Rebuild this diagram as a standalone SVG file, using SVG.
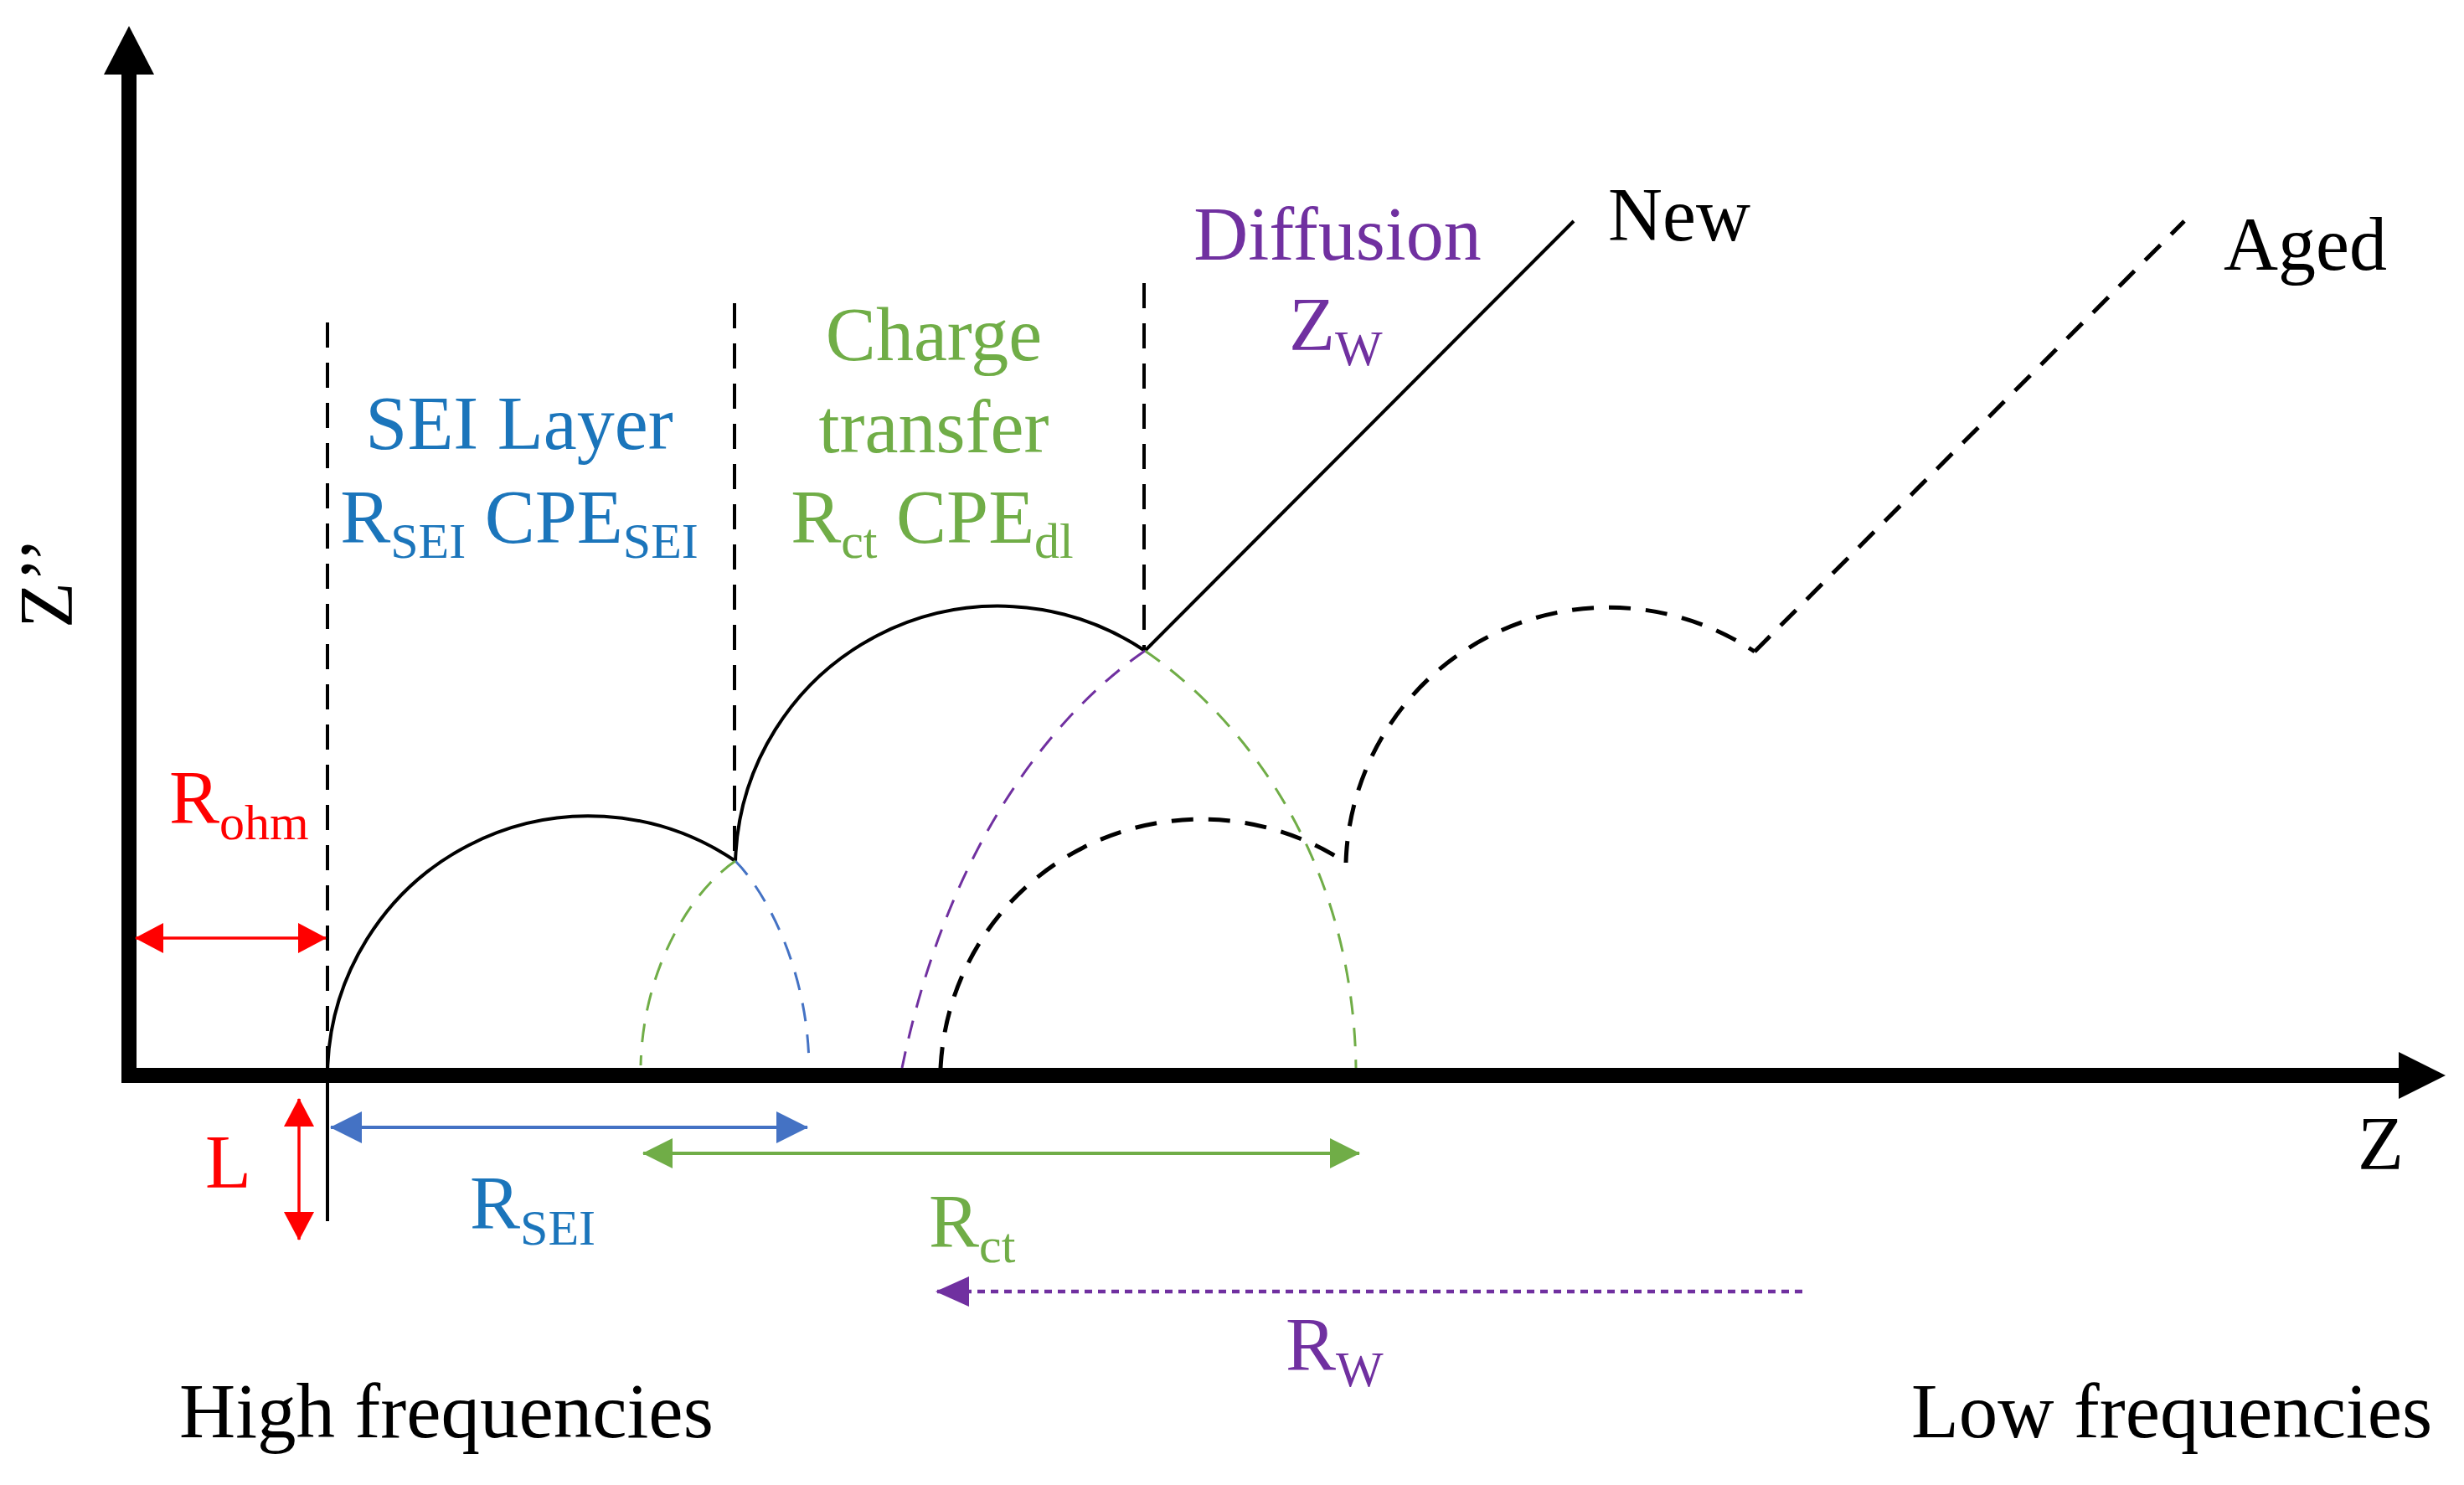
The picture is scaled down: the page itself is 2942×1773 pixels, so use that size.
<svg xmlns="http://www.w3.org/2000/svg" width="2942" height="1773" viewBox="0 0 2942 1773">
<style>
text{font-family:"Liberation Serif","Times New Roman",serif;font-size:90px}
.sub{font-size:60px}
.blue{fill:#1B75BB}
.green{fill:#70AD47}
.purple{fill:#7030A0}
.red{fill:#FF0000}
.blk{fill:#000}
.solid{fill:none;stroke:#000;stroke-width:4}
.vdash{fill:none;stroke:#000;stroke-width:4;stroke-dasharray:30 18}
.adash{fill:none;stroke:#000;stroke-width:5;stroke-dasharray:26 18}
.gdash{fill:none;stroke:#70AD47;stroke-width:3;stroke-dasharray:22 16}
.bdash{fill:none;stroke:#4472C4;stroke-width:3;stroke-dasharray:22 16}
.pdash{fill:none;stroke:#7030A0;stroke-width:3;stroke-dasharray:22 16}
</style>
<defs>
<marker id="mRed" viewBox="0 0 34 36" refX="33" refY="18" markerWidth="34" markerHeight="36" markerUnits="userSpaceOnUse" orient="auto-start-reverse"><path d="M0,0 L34,18 L0,36 Z" fill="#FF0000"/></marker>
<marker id="mBlue" viewBox="0 0 38 38" refX="37" refY="19" markerWidth="38" markerHeight="38" markerUnits="userSpaceOnUse" orient="auto-start-reverse"><path d="M0,0 L38,19 L0,38 Z" fill="#4472C4"/></marker>
<marker id="mGreen" viewBox="0 0 36 36" refX="35" refY="18" markerWidth="36" markerHeight="36" markerUnits="userSpaceOnUse" orient="auto-start-reverse"><path d="M0,0 L36,18 L0,36 Z" fill="#70AD47"/></marker>
<marker id="mPurple" viewBox="0 0 40 36" refX="39" refY="18" markerWidth="40" markerHeight="36" markerUnits="userSpaceOnUse" orient="auto"><path d="M0,0 L40,18 L0,36 Z" fill="#7030A0"/></marker>
</defs>
<rect width="2942" height="1773" fill="#fff"/>

<g id="axes">
<polyline points="154,89 154,1284 2866,1284" fill="none" stroke="#000" stroke-width="18" stroke-linejoin="miter"/>
<polygon points="154,31 124,89 184,89" fill="#000"/>
<polygon points="2920,1284 2864,1256 2864,1312" fill="#000"/>
<text class="blk" transform="translate(86,750) rotate(-90)">Z’’</text>
<text class="blk" x="2815" y="1396">Z</text>
</g>

<g id="guides">
<line class="vdash" x1="391" y1="385" x2="391" y2="1276"/>
<line class="vdash" x1="877" y1="362" x2="877" y2="1026"/>
<line class="vdash" x1="1366" y1="338" x2="1366" y2="775"/>
<line x1="391" y1="1293" x2="391" y2="1458" stroke="#000" stroke-width="4"/>
</g>

<g id="new-spectrum">
<path class="solid" d="M391 1280 A312 312 0 0 1 878 1028"/>
<path class="solid" d="M878 1030 A314 314 0 0 1 1367 777"/>
<line class="solid" x1="1367" y1="777" x2="1879" y2="264"/>
</g>

<g id="component-arcs">
<path class="bdash" d="M878 1028 C910 1060 964 1150 966 1272"/>
<path class="gdash" d="M878 1028 C830 1060 768 1150 765 1272"/>
<path class="gdash" d="M1367 777 C1460 840 1615 1000 1619 1275"/>
<path class="pdash" d="M1367 777 C1290 830 1140 970 1077 1275"/>
</g>

<g id="aged-spectrum">
<path class="adash" d="M1123 1276 A312 312 0 0 1 1607 1030"/>
<path class="adash" d="M1607 1030 A314 314 0 0 1 2095 778"/>
<line class="adash" x1="2095" y1="778" x2="2608" y2="264"/>
</g>

<g id="connectors">
<line x1="162" y1="1120" x2="389" y2="1120" stroke="#FF0000" stroke-width="3.5" marker-start="url(#mRed)" marker-end="url(#mRed)"/>
<line x1="357" y1="1312" x2="357" y2="1480" stroke="#FF0000" stroke-width="3.5" marker-start="url(#mRed)" marker-end="url(#mRed)"/>
<line x1="395" y1="1346" x2="964" y2="1346" stroke="#4472C4" stroke-width="4" marker-start="url(#mBlue)" marker-end="url(#mBlue)"/>
<line x1="768" y1="1377" x2="1623" y2="1377" stroke="#70AD47" stroke-width="4" marker-start="url(#mGreen)" marker-end="url(#mGreen)"/>
<line x1="2152" y1="1542" x2="1118" y2="1542" stroke="#7030A0" stroke-width="4.5" stroke-dasharray="9 7" marker-end="url(#mPurple)"/>
</g>

<g id="label-sei">
<text class="blue" x="620" y="536" text-anchor="middle">SEI Layer</text>
<text class="blue" x="620" y="648" text-anchor="middle">R<tspan class="sub" dy="18">SEI</tspan><tspan dy="-18"> CPE</tspan><tspan class="sub" dy="18">SEI</tspan></text>
</g>

<g id="label-ct">
<text class="green" x="1115" y="430" text-anchor="middle">Charge</text>
<text class="green" x="1115" y="540" text-anchor="middle">transfer</text>
<text class="green" x="1113" y="648" text-anchor="middle">R<tspan class="sub" dy="18">ct</tspan><tspan dy="-18"> CPE</tspan><tspan class="sub" dy="18">dl</tspan></text>
</g>

<g id="label-diffusion">
<text class="purple" x="1597" y="310" text-anchor="middle">Diffusion</text>
<text class="purple" x="1539" y="418">Z<tspan class="sub" dy="18">W</tspan></text>
</g>

<g id="label-new"><text class="blk" x="1920" y="287">New</text></g>
<g id="label-aged"><text class="blk" x="2655" y="322">Aged</text></g>

<g id="label-rohm"><text class="red" x="202" y="983">R<tspan class="sub" dy="19">ohm</tspan></text></g>
<g id="label-l"><text class="red" x="245" y="1418">L</text></g>
<g id="label-rsei"><text class="blue" x="561" y="1467">R<tspan class="sub" dy="19">SEI</tspan></text></g>
<g id="label-rct"><text class="green" x="1109" y="1489">R<tspan class="sub" dy="18">ct</tspan></text></g>
<g id="label-rw"><text class="purple" x="1535" y="1636">R<tspan class="sub" dy="19">W</tspan></text></g>

<g id="label-freq">
<text class="blk" x="214" y="1716" style="font-size:93px">High frequencies</text>
<text class="blk" x="2282" y="1716" style="font-size:93px">Low frequencies</text>
</g>
</svg>
